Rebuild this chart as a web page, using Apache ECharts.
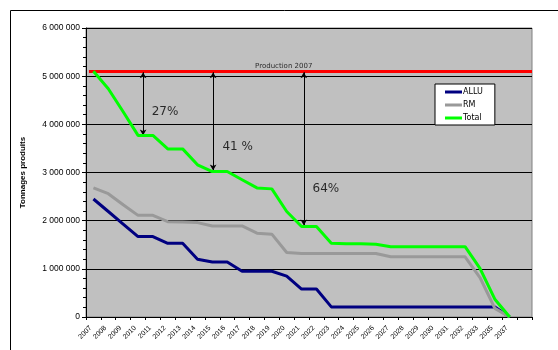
<!DOCTYPE html>
<html><head><meta charset="utf-8">
<script src="https://cdn.jsdelivr.net/npm/echarts@6/dist/echarts.min.js"></script>
<style>html,body{margin:0;padding:0;background:#fff}#c{width:558px;height:350px}</style>
</head><body><div id="c"></div>
<script>
const years = ['2007','2008','2009','2010','2011','2012','2013','2014','2015','2016','2017','2018','2019','2020','2021','2022','2023','2024','2025','2026','2027','2028','2029','2030','2031','2032','2033','2035','2037',''];
const allu  = [2450000,2190000,1930000,1670000,1670000,1530000,1530000,1200000,1140000,1140000,950000,950000,950000,850000,580000,580000,210000,210000,210000,210000,210000,210000,210000,210000,210000,210000,210000,210000,0,null];
const rm    = [2680000,2560000,2330000,2110000,2110000,1980000,1970000,1960000,1890000,1890000,1890000,1740000,1720000,1340000,1320000,1320000,1320000,1320000,1320000,1320000,1250000,1250000,1250000,1250000,1250000,1250000,820000,180000,0,null];
const total = [5100000,4740000,4260000,3770000,3770000,3490000,3490000,3160000,3020000,3020000,2850000,2680000,2660000,2190000,1880000,1880000,1530000,1520000,1520000,1510000,1460000,1460000,1460000,1460000,1460000,1460000,1010000,370000,0,null];
const yTicks = { min: 0, max: 6000000, interval: 1000000 };
const production2007 = 5100000;
// annotations: [x position (category units), bottom of arrow]
const arrows = [[3.34, 3770000], [8.05, 3040000], [14.15, 1900000]];
const pctLabels = [[3.92, 4260000, '27%'], [8.68, 3540000, '41 %'], [14.74, 2660000, '64%']];
const prodLabel = [12.8, 5100000, 'Production 2007'];

const fmt = v => String(v).replace(/\B(?=(\d{3})+(?!\d))/g, ' ');
const chart = echarts.init(document.getElementById('c'));
chart.setOption({
  animation: false,
  textStyle: { fontFamily: 'Liberation Sans' },
  graphic: [{ type: 'rect', shape: { x: 10.5, y: 10.5, width: 560, height: 360 }, style: { fill: 'none', stroke: '#000', lineWidth: 1 }, silent: true, z: -10 }],
  grid: { left: 86, right: 26, top: 28, bottom: 33, show: true, backgroundColor: '#C0C0C0', borderColor: '#808080', borderWidth: 1 },
  legend: {
    orient: 'vertical', left: 435, top: 84, data: ['ALLU', 'RM', 'Total'],
    icon: 'rect', itemWidth: 17, itemHeight: 3, itemGap: 3,
    backgroundColor: '#fff', borderColor: '#000', borderWidth: 1, borderRadius: 0,
    padding: [3, 12, 2, 10],
    textStyle: { fontSize: 8, color: '#000', lineHeight: 10, fontFamily: 'DejaVu Sans', padding: [0, 0, 0, -4] }
  },
  xAxis: [{
    type: 'category', data: years, boundaryGap: true, position: 'bottom',
    axisLine: { onZero: false, lineStyle: { color: '#000', width: 1 } },
    axisTick: { show: true, interval: 0, length: 3, lineStyle: { color: '#000' } },
    axisLabel: { interval: 0, rotate: 45, fontSize: 7, color: '#000', margin: 7, padding: [0, 4, 0, 0] },
    splitLine: { show: false }
  }, {
    type: 'value', min: -0.5, max: 29.5, show: false
  }],
  yAxis: {
    type: 'value', min: yTicks.min, max: yTicks.max, interval: yTicks.interval,
    name: 'Tonnages produits', nameLocation: 'middle', nameGap: 59, nameRotate: 90,
    nameTextStyle: { fontWeight: 'bold', fontSize: 8, color: '#000' },
    axisLine: { show: true, onZero: false, lineStyle: { color: '#000' } },
    axisTick: { show: true, length: 4, lineStyle: { color: '#000' } },
    minorTick: { show: true, splitNumber: 5, length: 3, lineStyle: { color: '#000' } },
    splitLine: { show: true, lineStyle: { color: '#000', width: 1 } },
    axisLabel: { fontSize: 8.5, color: '#000', margin: 6, formatter: fmt }
  },
  series: [
    { name: 'ALLU', type: 'line', data: allu, symbol: 'none', color: '#000080', lineStyle: { width: 3, color: '#000080' }, z: 3 },
    { name: 'RM', type: 'line', data: rm, symbol: 'none', color: '#999999', lineStyle: { width: 3, color: '#999999' }, z: 4 },
    { name: 'Total', type: 'line', data: total, symbol: 'none', color: '#00FF00', lineStyle: { width: 3, color: '#00FF00' }, z: 5 },
    {
      name: 'annot', type: 'scatter', xAxisIndex: 1, symbolSize: 0, z: 6,
      data: pctLabels.map(p => ({ value: [p[0], p[1]], label: { show: true, position: 'right', distance: 0, formatter: p[2], fontSize: 12, color: '#000', fontFamily: 'DejaVu Sans' } }))
        .concat([{ value: [prodLabel[0], prodLabel[1]], label: { show: true, position: 'top', distance: 2, formatter: prodLabel[2], fontSize: 7, color: '#000', fontFamily: 'DejaVu Sans' } }]),
      markLine: {
        silent: true, animation: false, precision: 5,
        data: [
          [{ coord: [-0.3, production2007], symbol: 'none', lineStyle: { color: '#FF0000', width: 3, type: 'solid' }, label: { show: false } },
           { coord: [29.5, production2007], symbol: 'none' }]
        ].concat(arrows.map(a => [
          { coord: [a[0], production2007 - 20000], symbol: 'arrow', symbolSize: [5, 6], lineStyle: { color: '#000', width: 1, type: 'solid' }, label: { show: false } },
          { coord: [a[0], a[1]], symbol: 'arrow', symbolSize: [5, 6] }
        ]))
      }
    }
  ]
});
</script></body></html>
